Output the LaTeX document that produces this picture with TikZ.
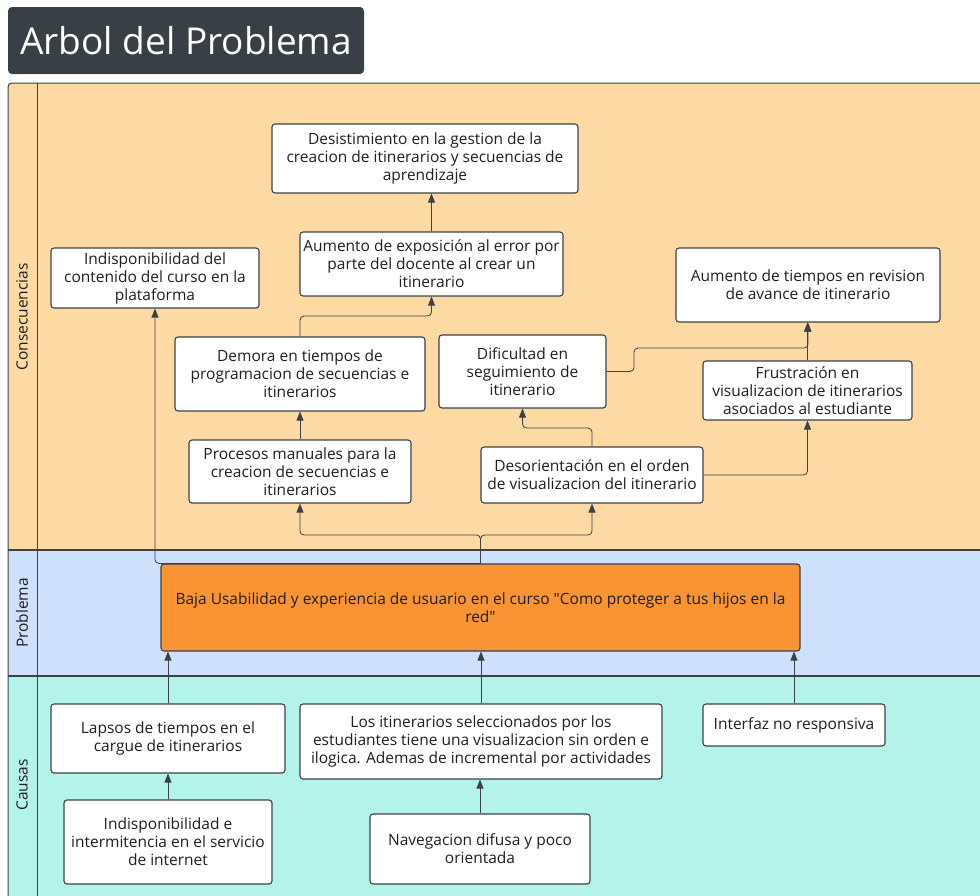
\documentclass[tikz,border=0pt]{standalone}
\usepackage{fontspec}
\newfontfamily\bodyfont{Open Sans}
\usetikzlibrary{arrows.meta}
\definecolor{peach}{HTML}{FDD9A4}
\definecolor{lblue}{HTML}{CEE0FB}
\definecolor{aqua}{HTML}{B4F3EA}
\definecolor{orng}{HTML}{F89433}
\definecolor{titlec}{HTML}{394045}
\definecolor{linec}{HTML}{3A4147}
\definecolor{txtc}{HTML}{1E1E1E}
\begin{document}
\begin{tikzpicture}[x=1pt,y=-1pt,
  box/.style={draw=linec, fill=white, rounded corners=3pt, line width=1.1pt, align=center,
    text=txtc, font=\bodyfont\fontsize{15.5}{18}\selectfont, inner sep=1pt},
  conn/.style={draw=linec, line width=0.8pt, rounded corners=4pt, -{Triangle[width=7pt,length=9pt]}},
  lane/.style={rotate=90, text=txtc, font=\bodyfont\fontsize{15.5}{16}\selectfont}]
\clip (0,0) rectangle (980,895);
\fill[white] (0,0) rectangle (980,895);
% title
\node[fill=titlec, rounded corners=4pt, minimum width=356pt, minimum height=67pt, text=white,
  font=\bodyfont\fontsize{37}{40}\selectfont] (title) at (186,40.5) {Arbol del Problema};
% lanes
\fill[peach] (8,83) rectangle (995,550);
\fill[lblue] (8,550) rectangle (995,676);
\fill[aqua] (8,676) rectangle (995,905);
\draw[linec, line width=1pt, rounded corners=4pt] (8,905) -- (8,83) -- (995,83);
\draw[linec, line width=1.6pt] (8,550) -- (995,550);
\draw[linec, line width=1.6pt] (8,676) -- (995,676);
\draw[linec, line width=1pt] (37,83) -- (37,905);
\node[lane] (lc) at (22,317) {Consecuencias};
\node[lane] (lp) at (22,613) {Problema};
\node[lane] (lca) at (22,785) {Causas};
% consequences
\node[box, minimum width=306pt, minimum height=69pt] (des) at (425,158.5) {Desistimiento en la gestion de la\\creacion de itinerarios y secuencias de\\aprendizaje};
\node[box, minimum width=263pt, minimum height=64pt] (aum) at (431.5,264) {Aumento de exposición al error por\\parte del docente al crear un\\itinerario};
\node[box, minimum width=208pt, minimum height=60pt] (ind) at (155,278) {Indisponibilidad del\\contenido del curso en la\\plataforma};
\node[box, minimum width=264pt, minimum height=74pt] (aut) at (808,285) {Aumento de tiempos en revision\\de avance de itinerario};
\node[box, minimum width=250pt, minimum height=74pt] (dem) at (300,374) {Demora en tiempos de\\programacion de secuencias e\\itinerarios};
\node[box, minimum width=167pt, minimum height=73pt] (dif) at (522.5,371.5) {Dificultad en\\seguimiento de\\itinerario};
\node[box, minimum width=209pt, minimum height=59pt] (fru) at (807.5,390.5) {Frustración en\\visualizacion de itinerarios\\asociados al estudiante};
\node[box, minimum width=222pt, minimum height=63pt] (proc) at (300,471.5) {Procesos manuales para la\\creacion de secuencias e\\itinerarios};
\node[box, minimum width=222pt, minimum height=56pt] (deso) at (592,475) {Desorientación en el orden\\de visualizacion del itinerario};
% problem
\node[box, fill=orng, minimum width=639pt, minimum height=87pt] (prob) at (480.5,607.5) {Baja Usabilidad y experiencia de usuario en el curso "Como proteger a tus hijos en la\\red"};
% causes
\node[box, minimum width=234pt, minimum height=69pt] (lap) at (168,738.5) {Lapsos de tiempos en el\\cargue de itinerarios};
\node[box, minimum width=362pt, minimum height=75pt] (los) at (481,741.5) {Los itinerarios seleccionados por los\\estudiantes tiene una visualizacion sin orden e\\ilogica. Ademas de incremental por actividades};
\node[box, minimum width=182pt, minimum height=42pt] (intf) at (794,725) {Interfaz no responsiva};
\node[box, minimum width=208pt, minimum height=84pt] (inte) at (168,842) {Indisponibilidad e\\intermitencia en el servicio\\de internet};
\node[box, minimum width=220pt, minimum height=70pt] (nav) at (480,849) {Navegacion difusa y poco\\orientada};
% connectors - consequences
\draw[conn] (aum.north) -- (aum.north |- des.south);
\draw[conn] (dem.north) -- (dem.north |- 0,316) -| (aum.south);
\draw[conn] (proc.north) -- (dem.south);
\draw[conn] (prob.north) -- (prob.north |- 0,535) -| (proc.south);
\draw[conn] (prob.north) -- (prob.north |- 0,535) -| (deso.south);
\draw[conn] (prob.north) -| (ind.south);
\draw[conn] (deso.north) -- (deso.north |- 0,428) -| (dif.south);
\draw[conn] (deso.east) -| (fru.south);
\draw[conn] (fru.north) -- (fru.north |- aut.south);
\draw[conn] (dif.east) -| (634,348) -| (aut.south);
% connectors - causes
\draw[conn] (lap.north) -- (lap.north |- prob.south);
\draw[conn] (los.north) -- (los.north |- prob.south);
\draw[conn] (intf.north) -- (intf.north |- prob.south);
\draw[conn] (inte.north) -- (lap.south);
\draw[conn] (nav.north) -- (nav.north |- los.south);
\end{tikzpicture}
\end{document}
